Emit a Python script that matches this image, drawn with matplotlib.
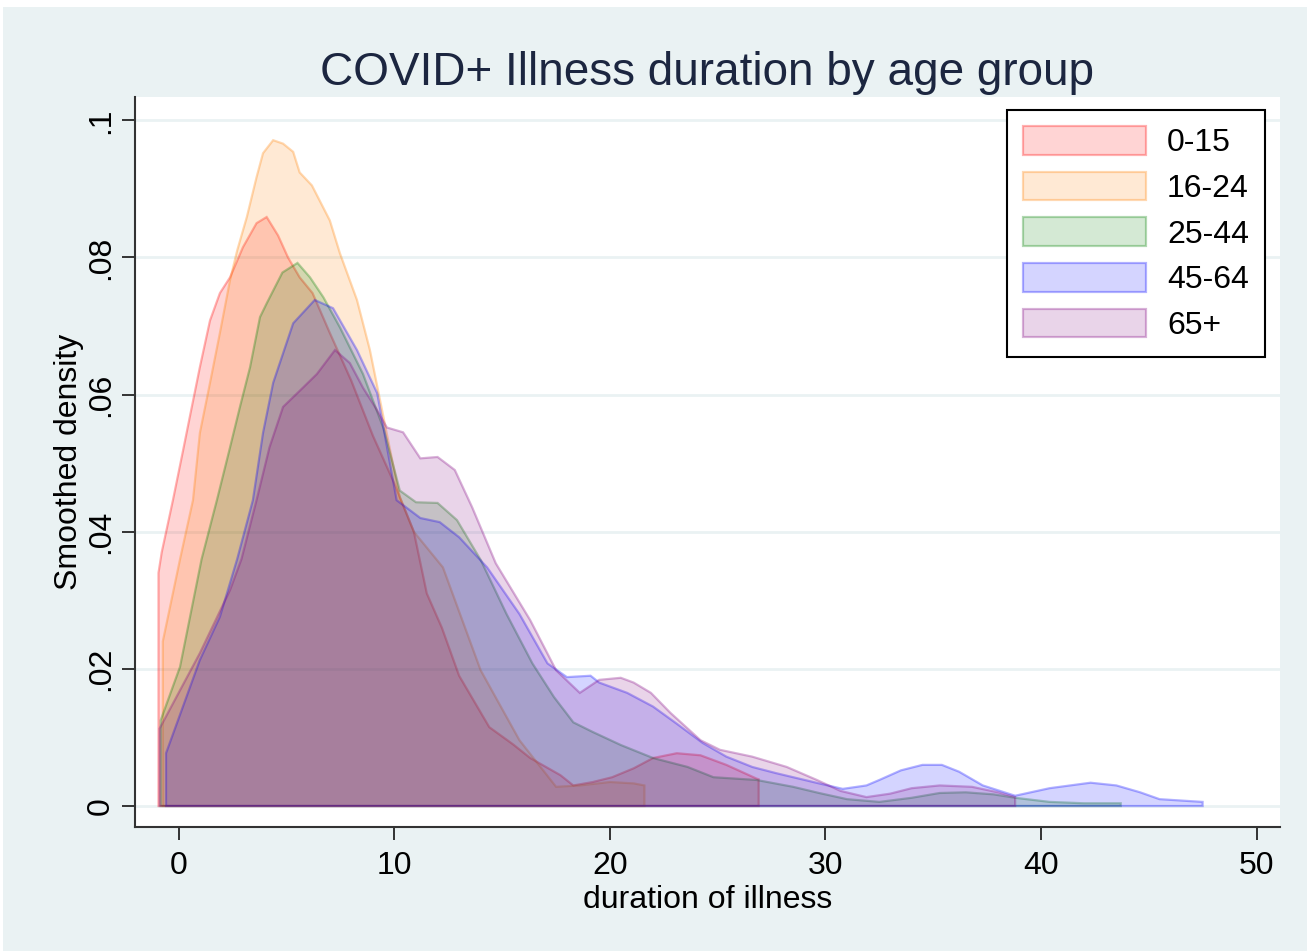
import matplotlib.pyplot as plt
from matplotlib.patches import Rectangle

plt.rcParams['font.family'] = ['Liberation Sans', 'DejaVu Sans']

# age groups and colours (Stata-like, drawn with transparency)
groups = ["0-15", "16-24", "25-44", "45-64", "65+"]
colors = ["#FF0000", "#FF8000", "#008000", "#0000FF", "#800080"]

# smoothed density curves
x_0_15 = [-0.95, -0.8, -0.28, 0.2, 0.5, 0.97, 1.44, 1.9, 2.37, 2.97, 3.6, 4.07, 4.6, 5.06,
          5.6, 6.2, 7.0, 8.0, 9.0, 10.0, 10.9, 11.5, 12.2, 13.0, 14.4, 15.5, 16.3, 17.7,
          18.3, 19.2, 20.1, 21.1, 22.0, 23.1, 24.2, 25.4, 26.8, 26.9]
y_0_15 = [0.034, 0.037, 0.0446, 0.052, 0.0567, 0.064, 0.0708, 0.0748, 0.0771, 0.0815, 0.085,
          0.0859, 0.0832, 0.080, 0.0771, 0.0748, 0.069, 0.062, 0.054, 0.047, 0.040, 0.031,
          0.026, 0.019, 0.0115, 0.009, 0.007, 0.0045, 0.003, 0.0035, 0.0042, 0.0055, 0.007,
          0.0077, 0.0074, 0.006, 0.004, 0.0039]

x_16_24 = [-0.75, 0.05, 0.65, 0.97, 1.44, 1.9, 2.37, 2.7, 3.15, 3.6, 3.9, 4.37, 4.83, 5.3,
           5.6, 6.17, 7.0, 7.47, 8.26, 8.86, 9.33, 9.8, 10.25, 10.9, 12.25, 14.0, 15.8,
           17.5, 18.6, 20.0, 21.1, 21.6]
y_16_24 = [0.024, 0.036, 0.0446, 0.0544, 0.0617, 0.069, 0.0767, 0.081, 0.0859, 0.0917,
           0.0952, 0.0971, 0.0966, 0.0954, 0.0924, 0.0905, 0.0854, 0.0806, 0.0738, 0.0665,
           0.0592, 0.0519, 0.045, 0.040, 0.0348, 0.0198, 0.0096, 0.0028, 0.003, 0.0035,
           0.0033, 0.003]

x_25_44 = [-0.85, 0.05, 1.05, 1.76, 2.37, 2.83, 3.3, 3.76, 4.07, 4.8, 5.5, 6.08, 6.7, 7.47,
           8.54, 9.5, 10.25, 11.0, 12.0, 12.9, 14.0, 15.2, 16.4, 17.4, 18.3, 19.2, 20.5,
           22.0, 23.6, 24.8, 26.8, 28.5, 29.7, 31.0, 32.5, 34.0, 35.3, 36.5, 37.8, 38.8,
           40.4, 42.0, 43.7]
y_25_44 = [0.0125, 0.0203, 0.036, 0.0446, 0.0523, 0.0582, 0.064, 0.0713, 0.0733, 0.0778,
           0.0792, 0.0771, 0.0742, 0.0698, 0.063, 0.055, 0.046, 0.0443, 0.0442, 0.0417,
           0.0359, 0.028, 0.0208, 0.0159, 0.0122, 0.0108, 0.0089, 0.007, 0.0057, 0.0042,
           0.0038, 0.0028, 0.0019, 0.001, 0.0006, 0.0012, 0.0019, 0.002, 0.0017, 0.0012,
           0.0006, 0.0004, 0.0004]

x_45_64 = [-0.6, 0.97, 1.9, 2.7, 3.43, 3.9, 4.37, 5.3, 6.3, 7.15, 8.26, 9.2, 10.1, 11.2,
           12.1, 13.0, 14.3, 15.8, 17.1, 18.0, 19.1, 19.5, 20.8, 22.0, 23.1, 24.3, 25.4,
           26.6, 27.7, 29.7, 30.8, 31.9, 32.5, 33.5, 34.5, 35.4, 36.2, 37.3, 38.8, 40.4,
           42.3, 43.5, 44.6, 45.5, 47.5]
y_45_64 = [0.0077, 0.0213, 0.0276, 0.036, 0.0446, 0.0544, 0.0617, 0.0704, 0.0738, 0.0726,
           0.0665, 0.0602, 0.0446, 0.042, 0.0414, 0.0392, 0.0348, 0.028, 0.0208, 0.0188,
           0.019, 0.018, 0.0165, 0.0145, 0.012, 0.0092, 0.0072, 0.0057, 0.0048, 0.0033,
           0.0025, 0.003, 0.0038, 0.0052, 0.006, 0.006, 0.005, 0.003, 0.0015, 0.0026,
           0.0034, 0.003, 0.002, 0.001, 0.0006]

x_65 = [-0.9, 0.97, 2.37, 2.9, 3.6, 4.2, 4.83, 5.75, 6.4, 7.24, 7.93, 8.54, 9.2, 9.65, 10.4,
        11.2, 12.0, 12.8, 13.6, 14.7, 16.3, 17.5, 18.6, 19.5, 20.5, 21.1, 21.9, 22.8, 24.2,
        25.1, 26.6, 28.2, 29.6, 30.7, 31.9, 33.0, 34.0, 35.3, 36.8, 38.0, 38.8]
y_65 = [0.0113, 0.0223, 0.0315, 0.036, 0.0446, 0.0523, 0.0582, 0.061, 0.063, 0.0665, 0.0646,
        0.061, 0.0577, 0.0552, 0.0545, 0.0507, 0.0509, 0.049, 0.0436, 0.0354, 0.0271,
        0.0198, 0.0165, 0.0184, 0.0187, 0.018, 0.0165, 0.0136, 0.0096, 0.0082, 0.0072,
        0.0057, 0.0038, 0.0022, 0.0013, 0.0018, 0.0026, 0.003, 0.0028, 0.002, 0.0013]

xs_all = [x_0_15, x_16_24, x_25_44, x_45_64, x_65]
ys_all = [y_0_15, y_16_24, y_25_44, y_45_64, y_65]

W, H = 1307, 951
fig = plt.figure(figsize=(W / 100, H / 100), dpi=100)
fig.patch.set_facecolor("white")
fig.patches.append(Rectangle((3 / W, 0), 1, (H - 7) / H, transform=fig.transFigure,
                             facecolor="#EAF2F3", edgecolor="none", zorder=-10))

ax = fig.add_axes([135 / W, 1 - 827 / H, (1280 - 135) / W, (827 - 97) / H])
ax.set_facecolor("white")

for xs, ys, g, c in zip(xs_all, ys_all, groups, colors):
    px = [xs[0]] + xs + [xs[-1]]
    py = [0] + ys + [0]
    ax.fill(px, py, facecolor=plt.matplotlib.colors.to_rgba(c, 0.17),
            edgecolor=plt.matplotlib.colors.to_rgba(c, 0.3), lw=1.6, label=g)

ax.set_xlim(-2.04, 51.09)
ax.set_ylim(-0.00306, 0.1034)
ax.set_xticks([0, 10, 20, 30, 40, 50])
ax.set_yticks([0, 0.02, 0.04, 0.06, 0.08, 0.1])
ax.set_yticklabels(["0", ".02", ".04", ".06", ".08", ".1"], rotation=90, va="center")
ax.grid(axis="y", color="#EAF2F3", lw=2)
ax.set_axisbelow(True)

for s in ["top", "right"]:
    ax.spines[s].set_visible(False)
for s in ["left", "bottom"]:
    ax.spines[s].set_color("#333333")
    ax.spines[s].set_linewidth(1.5)
ax.tick_params(axis="both", length=9.5, width=1.4, color="#333333", labelsize=23,
               labelcolor="black")
ax.tick_params(axis="x", pad=7.5)
ax.tick_params(axis="y", pad=4)

ax.set_xlabel("duration of illness", fontsize=23)
ax.xaxis.set_label_coords(0.5, (827 - 885) / 730)
ax.set_ylabel("Smoothed density", fontsize=23)
ax.yaxis.set_label_coords((84 - 135) / 1145, 0.5)

fig.text(707 / W, 1 - 85 / H, "COVID+ Illness duration by age group", fontsize=33,
         ha="center", va="baseline", color="#1c2640")

leg = ax.legend(loc="upper right", bbox_to_anchor=(1 - 15 / 1145, 1 - 13 / 730),
                borderaxespad=0, fontsize=23, handlelength=3.85, handleheight=1.0,
                handletextpad=0.65, labelspacing=0.42, borderpad=0.5, fancybox=False,
                edgecolor="black", framealpha=1)
leg.get_frame().set_linewidth(1.5)

fig.savefig("out.png", dpi=100)
